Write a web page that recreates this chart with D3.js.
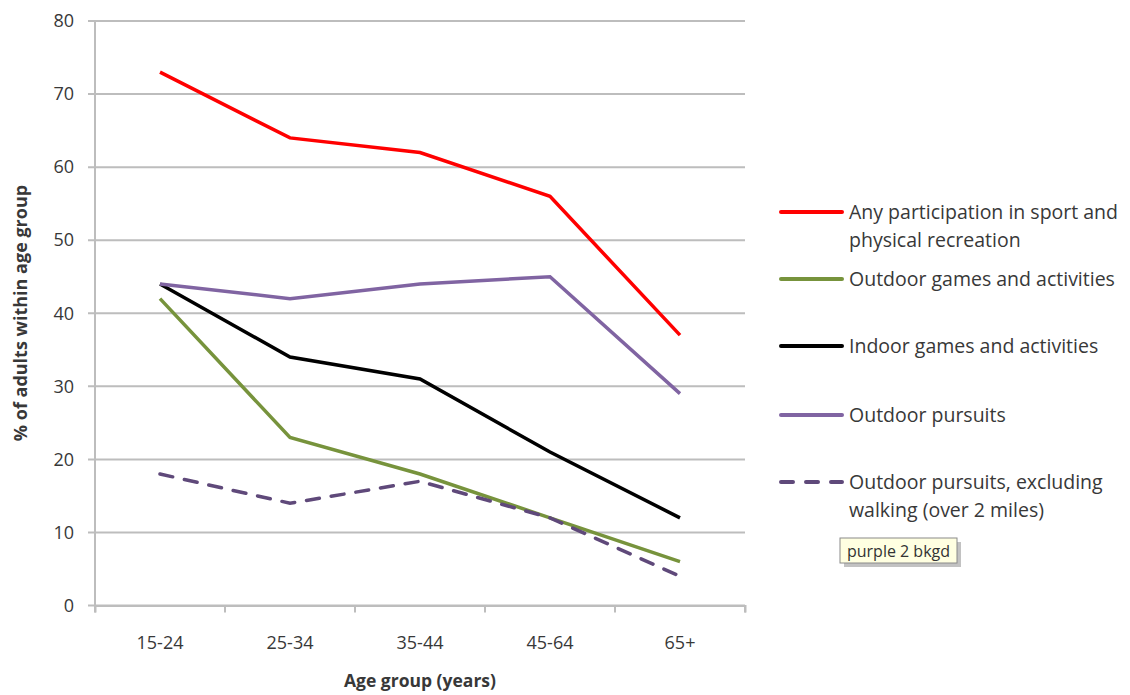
<!DOCTYPE html>
<html>
<head>
<meta charset="utf-8">
<script src="https://cdn.jsdelivr.net/npm/d3@7"></script>
<style>
    body { margin: 0; background: #fff; }
    text { font-family: "Open Sans", "Liberation Sans", sans-serif; }
</style>
</head>
<body>
<div id="chart"></div>
<script>
var ageGroups = ["15-24", "25-34", "35-44", "45-64", "65+"];
var anyParticipation = [73, 64, 62, 56, 37];
var outdoorGames = [42, 23, 18, 12, 6];
var indoorGames = [44, 34, 31, 21, 12];
var outdoorPursuits = [44, 42, 44, 45, 29];
var outdoorExclWalking = [18, 14, 17, 12, 4];
var yTicks = [0, 10, 20, 30, 40, 50, 60, 70, 80];

var seriesNames = [
    ["Any participation in sport and", "physical recreation"],
    ["Outdoor games and activities"],
    ["Indoor games and activities"],
    ["Outdoor pursuits"],
    ["Outdoor pursuits, excluding", "walking (over 2 miles)"],
];

var series = [
    { name: seriesNames[0], values: anyParticipation, color: "#ff0000", dash: null, legendY: 212 },
    { name: seriesNames[1], values: outdoorGames, color: "#77933c", dash: null, legendY: 279 },
    { name: seriesNames[2], values: indoorGames, color: "#000000", dash: null, legendY: 346 },
    { name: seriesNames[3], values: outdoorPursuits, color: "#8064a2", dash: null, legendY: 415 },
    { name: seriesNames[4], values: outdoorExclWalking, color: "#5f497a", dash: "13,12", legendY: 482 },
];

var cfg = {
    width: 1130,
    height: 695,
    left: 95,
    right: 745,
    top: 21,
    bottom: 605.5,
    grid: "#bdbdbd",
    textColor: "#383838",
};

var svg = d3.select("#chart").append("svg")
    .attr("width", cfg.width)
    .attr("height", cfg.height);

var x = d3.scaleBand().domain(ageGroups).range([cfg.left, cfg.right]);
var y = d3.scaleLinear().domain([0, 80]).range([cfg.bottom, cfg.top]);

// gridlines
svg.append("g")
    .selectAll("line")
    .data(yTicks)
    .join("line")
    .attr("x1", cfg.left - 7)
    .attr("x2", cfg.right)
    .attr("y1", d => y(d))
    .attr("y2", d => y(d))
    .style("stroke", cfg.grid)
    .style("stroke-width", 2);

// y axis line
svg.append("line")
    .attr("x1", cfg.left).attr("x2", cfg.left)
    .attr("y1", cfg.top).attr("y2", cfg.bottom + 7)
    .style("stroke", cfg.grid)
    .style("stroke-width", 2);

// y tick labels
svg.append("g")
    .selectAll("text")
    .data(yTicks)
    .join("text")
    .attr("x", cfg.left - 21)
    .attr("y", d => y(d))
    .attr("dy", "0.35em")
    .attr("text-anchor", "end")
    .style("font-size", "18px")
    .style("fill", cfg.textColor)
    .text(d => d);

// x axis ticks (category boundaries)
var xAxis = d3.axisBottom(x).tickSize(7).tickPadding(24).tickSizeOuter(7);
var gx = svg.append("g")
    .attr("transform", `translate(0,${cfg.bottom})`)
    .call(xAxis);
gx.select(".domain").style("stroke", cfg.grid).style("stroke-width", 2);
gx.selectAll(".tick line")
    .attr("transform", `translate(${x.bandwidth() / 2},0)`)
    .style("stroke", cfg.grid)
    .style("stroke-width", 2);
gx.selectAll(".tick text")
    .style("font-size", "18px")
    .style("fill", cfg.textColor)
    .style("font-family", "Open Sans, sans-serif");

// axis titles
svg.append("text")
    .attr("x", 420)
    .attr("y", 681)
    .attr("dy", "0.35em")
    .attr("text-anchor", "middle")
    .style("font-size", "17.5px")
    .style("font-weight", "bold")
    .style("fill", cfg.textColor)
    .text("Age group (years)");

svg.append("text")
    .attr("transform", "translate(27,313) rotate(-90)")
    .attr("text-anchor", "middle")
    .style("font-size", "18px")
    .style("font-weight", "bold")
    .style("fill", cfg.textColor)
    .text("% of adults within age group");

// lines
var line = d3.line()
    .x((d, i) => x(ageGroups[i]) + x.bandwidth() / 2)
    .y(d => y(d));

svg.append("g")
    .selectAll("path")
    .data(series)
    .join("path")
    .attr("d", d => line(d.values))
    .style("fill", "none")
    .style("stroke", d => d.color)
    .style("stroke-width", 3.5)
    .style("stroke-dasharray", d => d.dash)
    .style("stroke-linecap", d => d.dash ? "round" : "butt");

// legend
var legend = svg.append("g")
    .selectAll("g")
    .data(series)
    .join("g")
    .attr("transform", d => `translate(781,${d.legendY})`);

legend.append("line")
    .attr("x1", 0).attr("x2", 61)
    .attr("y1", 0).attr("y2", 0)
    .style("stroke", d => d.color)
    .style("stroke-width", 4)
    .style("stroke-dasharray", d => d.dash ? "12,13" : null)
    .style("stroke-linecap", "round");

legend.append("text")
    .attr("x", 68)
    .attr("y", 0)
    .style("font-size", "19.5px")
    .style("fill", cfg.textColor)
    .selectAll("tspan")
    .data(d => d.name)
    .join("tspan")
    .attr("x", 68)
    .attr("dy", (d, i) => i === 0 ? "0.35em" : "28px")
    .text(d => d);

// tooltip box
var tip = svg.append("g").attr("transform", "translate(840,538)");
tip.append("rect")
    .attr("x", 4).attr("y", 4)
    .attr("width", 117).attr("height", 25)
    .style("fill", "#9a9a9a")
    .style("opacity", 0.6);
tip.append("rect")
    .attr("width", 117).attr("height", 25)
    .style("fill", "#ffffe1")
    .style("stroke", "#8a8a8a")
    .style("stroke-width", 1);
tip.append("text")
    .attr("x", 58.5).attr("y", 13)
    .attr("dy", "0.35em")
    .attr("text-anchor", "middle")
    .style("font-size", "16px")
    .style("fill", "#333")
    .text("purple 2 bkgd");
</script>
</body>
</html>
